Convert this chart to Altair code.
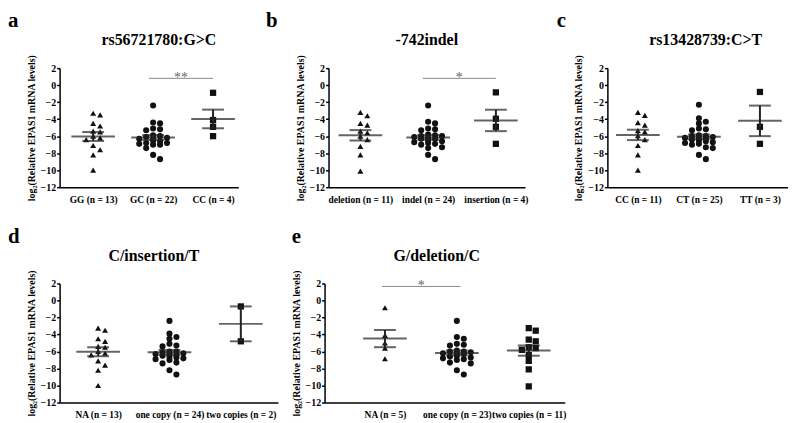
import altair as alt
import pandas as pd
import json

# ---------------- data ----------------
panel_letters = ["a", "b", "c", "d", "e"]
panel_titles = ["rs56721780:G>C", "-742indel", "rs13428739:C>T", "C/insertion/T", "G/deletion/C"]

labels_a = ["GG  (n = 13)", "GC  (n = 22)", "CC (n = 4)"]
labels_b = ["deletion  (n = 11)", "indel  (n = 24)", "insertion (n = 4)"]
labels_c = ["CC  (n = 11)", "CT  (n = 25)", "TT (n = 3)"]
labels_d = ["NA  (n = 13)", "one copy  (n = 24)", "two copies (n = 2)"]
labels_e = ["NA  (n = 5)", "one copy  (n = 23)", "two copies (n = 11)"]

a_GG = [-3.5, -3.3, -4.5, -4.8, -5.4, -5.5, -6.0, -6.2, -6.4, -7.1, -7.6, -8.2, -10.0]
a_GC = [-2.4, -4.5, -4.4, -5.1, -5.2, -5.3, -5.9, -6.0, -6.1, -6.2, -6.3, -6.3, -6.5,
        -6.6, -6.8, -6.8, -6.9, -7.0, -7.4, -7.0, -8.2, -8.7]
a_CC = [-0.9, -4.1, -4.9, -6.0]

b_del = [-3.2, -3.6, -4.7, -4.5, -5.6, -6.0, -5.4, -6.4, -7.2, -8.2, -10.1]
b_indel = [-2.4, -4.5, -4.3, -5.1, -5.2, -5.3, -5.8, -5.9, -6.0, -6.0, -6.1, -6.2,
           -6.3, -6.3, -6.5, -6.6, -6.7, -6.8, -6.9, -7.0, -7.3, -7.4, -8.2, -8.7]
b_ins = [-0.85, -3.95, -4.9, -6.9]

c_CC = [-3.2, -3.55, -4.7, -4.4, -5.5, -5.95, -5.35, -6.4, -7.1, -8.2, -10.0]
c_CT = [-2.3, -3.9, -4.5, -4.3, -5.1, -5.2, -5.3, -5.9, -6.0, -6.0, -6.1, -6.2, -6.3,
        -6.3, -6.4, -6.5, -6.6, -6.7, -6.8, -6.9, -7.0, -7.3, -7.4, -8.2, -8.7]
c_TT = [-0.8, -4.9, -6.9]

d_NA = [-3.5, -3.25, -4.5, -4.8, -5.4, -5.5, -6.0, -6.2, -6.4, -7.1, -7.6, -8.2, -10.0]
d_one = [-2.4, -3.9, -4.5, -4.3, -5.1, -5.3, -5.4, -6.0, -6.0, -6.1, -6.2, -6.3,
         -6.3, -6.4, -6.5, -6.6, -6.7, -6.8, -6.9, -7.0, -7.3, -7.4, -8.2, -8.7]
d_two = [-0.7, -4.8]

e_NA = [-0.85, -4.1, -5.0, -5.6, -6.85]
e_one = [-2.4, -4.5, -4.3, -5.1, -5.2, -5.3, -5.9, -6.0, -6.0, -6.1, -6.2, -6.3,
         -6.3, -6.5, -6.6, -6.7, -6.8, -6.9, -7.0, -7.3, -7.4, -8.2, -8.7]
e_two = [-3.25, -3.55, -4.6, -4.8, -5.6, -5.8, -5.5, -6.4, -7.1, -8.1, -10.1]

# significance brackets: (from x, to x, y, label)
sig_a = [(1.93, 3.0, 0.8, "**")]
sig_b = [(1.92, 3.0, 0.8, "*")]
sig_e = [(0.96, 2.05, 1.65, "*")]

# ---------------- style ----------------
SERIF = "Liberation Serif"
INK = "#111111"
PLOT_H = 120
Y_DOMAIN = [-12, 2]


def beeswarm(values, step_units, px_per_unit_y, min_dy_px=4.5, max_col=2):
    order = sorted(range(len(values)), key=lambda i: -values[i])
    placed = []
    cols = [0] * len(values)
    cand = [0]
    for n in range(1, max_col + 1):
        cand += [n, -n]
    for i in order:
        v = values[i]
        best, best_cnt = 0, None
        chosen = None
        for c in cand:
            cnt = sum(1 for pc, pv in placed if pc == c and abs(pv - v) * px_per_unit_y < min_dy_px)
            if cnt == 0:
                chosen = c
                break
            if best_cnt is None or cnt < best_cnt:
                best, best_cnt = c, cnt
        if chosen is None:
            chosen = best
        placed.append((chosen, v))
        cols[i] = chosen
    return [c * step_units for c in cols]


def panel(letter, title, labels, groups, domain, width, sig, title_dx, letter_dx):
    px_x = width / (domain[1] - domain[0])
    px_y = PLOT_H / (Y_DOMAIN[1] - Y_DOMAIN[0])
    rows = []
    for gi, vals in enumerate(groups, start=1):
        offs = beeswarm(vals, 7.0 / px_x, px_y)
        for v, o in zip(vals, offs):
            rows.append({"grp": gi, "value": v, "xpos": gi + o})
    df = pd.DataFrame(rows)

    xs = alt.Scale(domain=domain, nice=False, zero=False)
    ys = alt.Scale(domain=Y_DOMAIN, nice=False, zero=False)
    label_arr = json.dumps([""] + labels)
    xaxis = alt.Axis(values=[1, 2, 3], labelExpr=f"{label_arr}[datum.value]", ticks=False,
                     grid=False, domainColor="#000", domainWidth=1.5, labelFont=SERIF,
                     labelFontSize=9.5, labelFontWeight="bold", labelColor="#000",
                     labelPadding=7, labelOverlap=False, labelFlush=False, title=None)
    yaxis = alt.Axis(values=list(range(-12, 3, 2)), grid=False, domainColor="#000",
                     domainWidth=1.5, tickColor="#000", tickWidth=1.5, tickSize=3,
                     labelFont=SERIF, labelFontSize=10, labelFontWeight="bold",
                     labelColor="#000", labelPadding=1,
                     title="log\u2082(Relative EPAS1 mRNA levels)", titleFont=SERIF,
                     titleFontSize=10, titleFontWeight="bold", titleColor="#000",
                     titlePadding=4)

    def X(f):
        return alt.X(f, type="quantitative", scale=xs, axis=xaxis)

    def Y(f):
        return alt.Y(f, type="quantitative", scale=ys, axis=yaxis)

    base = alt.Chart(df)
    pts = base.mark_point(filled=True, opacity=1, color=INK).encode(
        x=X("xpos"), y=Y("value"),
        shape=alt.Shape("grp:O", scale=alt.Scale(domain=[1, 2, 3],
                        range=["triangle-up", "circle", "square"]), legend=None),
        size=alt.Size("grp:O", scale=alt.Scale(domain=[1, 2, 3], range=[36, 40, 32]), legend=None),
    )
    stats = base.transform_aggregate(
        mean="mean(value)", se="stderr(value)", groupby=["grp"]
    ).transform_calculate(lo="datum.mean - datum.se", hi="datum.mean + datum.se")
    vline = stats.mark_rule(strokeWidth=2, color="#222").encode(x=X("grp"), y=Y("lo"), y2="hi:Q")
    mean_t = stats.mark_tick(orient="horizontal", size=44, thickness=2, color="#222").encode(
        x=X("grp"), y=Y("mean"))
    caps = stats.transform_fold(["lo", "hi"], as_=["k", "v"]).mark_tick(
        orient="horizontal", size=22, thickness=2, color="#222").encode(x=X("grp"), y=Y("v"))
    layers = [pts, vline, mean_t, caps]
    if sig:
        sdf = pd.DataFrame([{"x1": s[0], "x2": s[1], "y": s[2], "t": s[3],
                             "xm": (s[0] + s[1]) / 2} for s in sig])
        sb = alt.Chart(sdf)
        layers.append(sb.mark_rule(color="#888", strokeWidth=1).encode(
            x=X("x1"), x2="x2:Q", y=Y("y")))
        layers.append(sb.mark_text(color="#666", font=SERIF, fontSize=14, baseline="middle",
                                   dy=0).encode(x=X("xm"), y=Y("y"), text="t:N"))
    inner = alt.layer(*layers).properties(
        width=width, height=PLOT_H,
        title=alt.TitleParams(title, font=SERIF, fontSize=16, fontWeight="bold", color="#000",
                              anchor="middle", frame="group", offset=6, dx=title_dx),
    )
    return alt.vconcat(inner, spacing=0).properties(
        title=alt.TitleParams(letter, font=SERIF, fontSize=21, fontWeight="bold", color="#000",
                              anchor="start", frame="group", offset=1, dx=letter_dx)
    )


pa = panel("a", panel_titles[0], labels_a, [a_GG, a_GC, a_CC], [0.44, 3.42], 180, sig_a, 10, -52)
pb = panel("b", panel_titles[1], labels_b, [b_del, b_indel, b_ins], [0.53, 3.43], 198, sig_b, 0, -63)
pc = panel("c", panel_titles[2], labels_c, [c_CC, c_CT, c_TT], [0.5, 3.46], 182, None, 8, -51)
pd_ = panel("d", panel_titles[3], labels_d, [d_NA, d_one, d_two], [0.46, 3.52], 220, None, -15, -52)
pe = panel("e", panel_titles[4], labels_e, [e_NA, e_one, e_two], [0.16, 3.5], 242, sig_e, -8, -33)

row1 = alt.hconcat(pa, pb, pc, spacing=28)
row2 = alt.hconcat(pd_, pe, spacing=13)
chart = alt.vconcat(row1, row2, spacing=21).properties(
    background="white", padding={"left": 0, "top": 0, "right": 0, "bottom": 0}
).configure_view(stroke=None)

chart.save("out.html", embed_options={"renderer": "svg", "actions": False})
